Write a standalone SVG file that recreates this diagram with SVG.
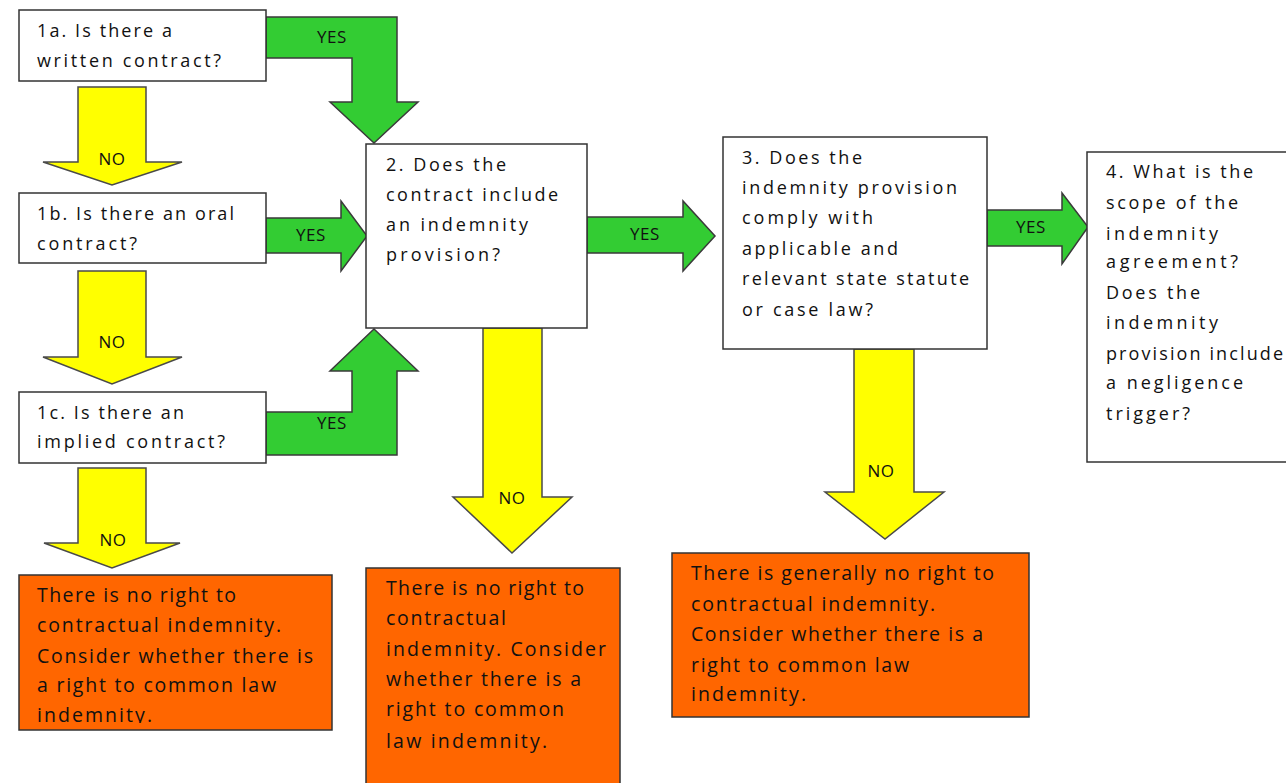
<svg xmlns="http://www.w3.org/2000/svg" width="1286" height="783" viewBox="0 0 1286 783">
<style>
.box{fill:#fff;stroke:#333;stroke-width:1.5}
.obox{fill:#ff6600;stroke:#333;stroke-width:1.5}
.ga{fill:#33cc33;stroke:#3a3a3a;stroke-width:1.5;stroke-linejoin:miter}
.ya{fill:#ffff00;stroke:#4a4a4a;stroke-width:1.5;stroke-linejoin:miter}
text{font-family:"Open Sans","Liberation Sans",Arial,sans-serif;fill:#111}
.q{font-size:18px}
.o{font-size:19.5px}
.lbl{font-size:17px;text-anchor:middle;letter-spacing:0.5px}
</style>
<defs>
<clipPath id="c1"><rect x="19" y="575" width="313" height="148"/></clipPath>
</defs>
<rect width="1286" height="783" fill="#fff"/>
<g id="connectors">
<path class="ga" d="M266,17 L397,17 L397,102 L418,102 L374,143 L330,102 L352,102 L352,58 L266,58 Z"/>
<path class="ga" d="M266,218 L341,218 L341,201 L367,236 L341,271 L341,253 L266,253 Z"/>
<path class="ga" d="M266,412 L352,412 L352,371 L330,371 L374,329 L418,371 L397,371 L397,455 L266,455 Z"/>
<path class="ga" d="M587,217 L683,217 L683,201 L715,236 L683,271 L683,253 L587,253 Z"/>
<path class="ga" d="M987,210 L1062,210 L1062,193 L1088,227 L1062,264 L1062,246 L987,246 Z"/>
<path class="ya" d="M78,87 L146,87 L146,162 L182,162 L112,185 L43,162 L78,162 Z"/>
<path class="ya" d="M78,271 L146,271 L146,357 L182,357 L112,384 L43,357 L78,357 Z"/>
<path class="ya" d="M78,468 L146,468 L146,543 L180,543 L112,568 L44,543 L78,543 Z"/>
<path class="ya" d="M483,328 L542,328 L542,497 L572,497 L512,553 L453,497 L483,497 Z"/>
<path class="ya" d="M854,349 L914,349 L914,492 L944,492 L885,539 L825,492 L854,492 Z"/>
<text class="lbl" x="332" y="43">YES</text>
<text class="lbl" x="311" y="241">YES</text>
<text class="lbl" x="332" y="429">YES</text>
<text class="lbl" x="645" y="240">YES</text>
<text class="lbl" x="1031" y="233">YES</text>
<text class="lbl" x="112" y="165">NO</text>
<text class="lbl" x="112" y="348">NO</text>
<text class="lbl" x="113" y="546">NO</text>
<text class="lbl" x="512" y="504">NO</text>
<text class="lbl" x="881" y="477">NO</text>
</g>
<g id="n1a">
<rect class="box" x="19" y="10" width="247" height="71"/>
<text class="q" x="37" y="37" textLength="135">1a. Is there a</text>
<text class="q" x="37" y="67" textLength="184">written contract?</text>
</g>
<g id="n1b">
<rect class="box" x="19" y="193" width="247" height="70"/>
<text class="q" x="37" y="220" textLength="197">1b. Is there an oral</text>
<text class="q" x="37" y="250" textLength="100">contract?</text>
</g>
<g id="n1c">
<rect class="box" x="19" y="392" width="247" height="71"/>
<text class="q" x="37" y="419" textLength="147">1c. Is there an</text>
<text class="q" x="37" y="448" textLength="188">implied contract?</text>
</g>
<g id="n2">
<rect class="box" x="366" y="144" width="221" height="184"/>
<text class="q" x="386" y="171" textLength="120">2. Does the</text>
<text class="q" x="386" y="201" textLength="172">contract include</text>
<text class="q" x="386" y="231" textLength="142">an indemnity</text>
<text class="q" x="386" y="261" textLength="114">provision?</text>
</g>
<g id="n3">
<rect class="box" x="723" y="137" width="264" height="212"/>
<text class="q" x="742" y="164" textLength="120">3. Does the</text>
<text class="q" x="742" y="194" textLength="215">indemnity provision</text>
<text class="q" x="742" y="224" textLength="131">comply with</text>
<text class="q" x="742" y="255" textLength="156">applicable and</text>
<text class="q" x="742" y="285" textLength="227">relevant state statute</text>
<text class="q" x="742" y="316" textLength="131">or case law?</text>
</g>
<g id="n4">
<rect class="box" x="1087" y="152" width="220" height="310"/>
<text class="q" x="1106" y="178" textLength="147">4. What is the</text>
<text class="q" x="1106" y="209" textLength="132">scope of the</text>
<text class="q" x="1106" y="240" textLength="112">indemnity</text>
<text class="q" x="1106" y="268" textLength="132">agreement?</text>
<text class="q" x="1106" y="299" textLength="94">Does the</text>
<text class="q" x="1106" y="329" textLength="112">indemnity</text>
<text class="q" x="1106" y="360" textLength="177">provision include</text>
<text class="q" x="1106" y="389" textLength="137">a negligence</text>
<text class="q" x="1106" y="420" textLength="84">trigger?</text>
</g>
<g id="o1">
<rect class="obox" x="19" y="575" width="313" height="155"/>
<g clip-path="url(#c1)">
<text class="o" x="37" y="602" textLength="199">There is no right to</text>
<text class="o" x="37" y="632" textLength="244">contractual indemnity.</text>
<text class="o" x="37" y="663" textLength="276">Consider whether there is</text>
<text class="o" x="37" y="692" textLength="239">a right to common law</text>
<text class="o" x="37" y="722" textLength="115">indemnity.</text>
</g>
</g>
<g id="o2">
<rect class="obox" x="366" y="568" width="254" height="230"/>
<text class="o" x="386" y="595" textLength="198">There is no right to</text>
<text class="o" x="386" y="625" textLength="120">contractual</text>
<text class="o" x="386" y="656" textLength="220">indemnity.  Consider</text>
<text class="o" x="386" y="686" textLength="195">whether there is a</text>
<text class="o" x="386" y="716" textLength="178">right to common</text>
<text class="o" x="386" y="748" textLength="161">law indemnity.</text>
</g>
<g id="o3">
<rect class="obox" x="672" y="553" width="357" height="164"/>
<text class="o" x="691" y="580" textLength="303">There is generally no right to</text>
<text class="o" x="691" y="611" textLength="244">contractual indemnity.</text>
<text class="o" x="691" y="641" textLength="292">Consider whether there is a</text>
<text class="o" x="691" y="672" textLength="218">right to common law</text>
<text class="o" x="691" y="701" textLength="115">indemnity.</text>
</g>
</svg>
